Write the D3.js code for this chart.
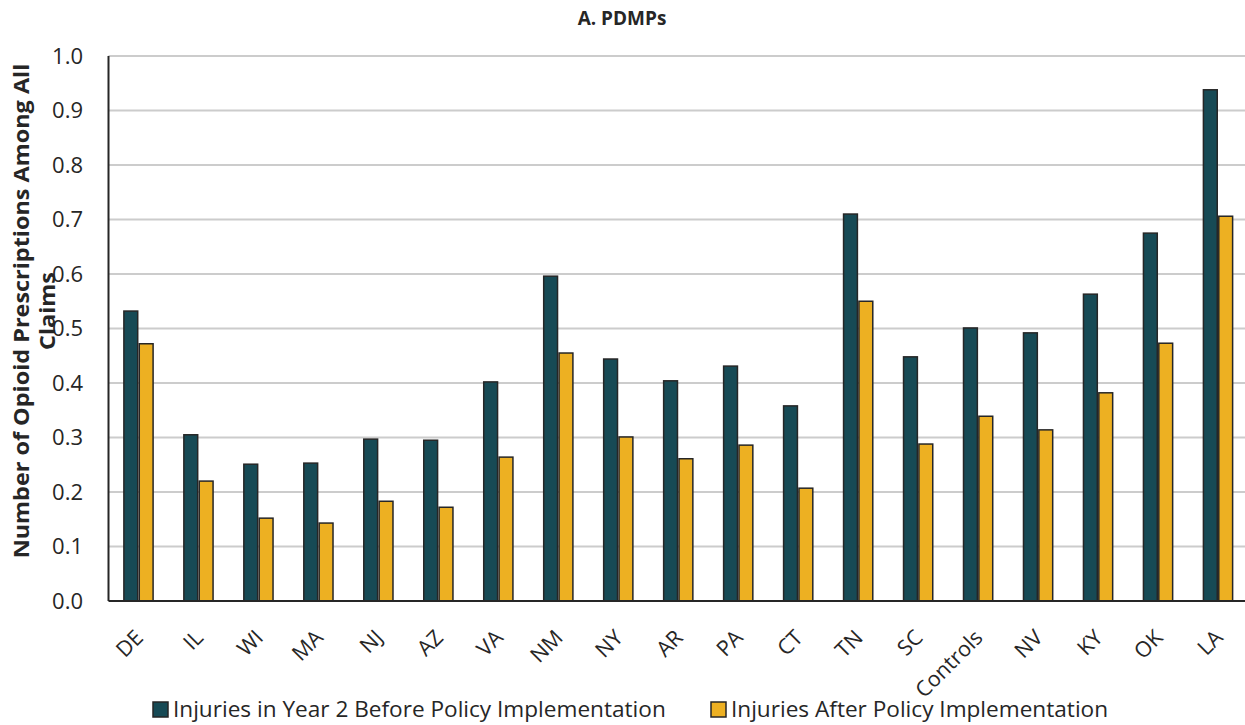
<!DOCTYPE html>
<html><head><meta charset="utf-8">
<script src="https://cdn.jsdelivr.net/npm/d3@7"></script>
<style>body{margin:0;background:#fff}svg{display:block}text{font-family:"Open Sans","Noto Sans",sans-serif;fill:#262626}</style>
</head><body>
<svg id="c" width="1245" height="725"></svg>
<script>
const categories = ["DE","IL","WI","MA","NJ","AZ","VA","NM","NY","AR","PA","CT","TN","SC","Controls","NV","KY","OK","LA"];
const before = [0.532,0.305,0.251,0.253,0.297,0.295,0.402,0.596,0.444,0.404,0.431,0.358,0.710,0.448,0.501,0.492,0.563,0.675,0.938];
const after  = [0.472,0.220,0.152,0.143,0.183,0.172,0.264,0.455,0.301,0.261,0.286,0.207,0.550,0.288,0.339,0.314,0.382,0.473,0.706];
const seriesNames = ["Injuries in Year 2 Before Policy Implementation","Injuries After Policy Implementation"];
const yTicks = [0,0.1,0.2,0.3,0.4,0.5,0.6,0.7,0.8,0.9,1.0];
const colors = ["#174a55","#edb022"];

const svg = d3.select("#c");
const m = {l:108.5, r:1248, t:56, b:601};
const x = d3.scaleBand().domain(categories).range([m.l, m.r]).paddingInner(0).paddingOuter(0);
const x1 = d3.scaleBand().domain([0,1]).range([0, x.bandwidth()]).paddingInner(0.1).paddingOuter(1.0);
const y = d3.scaleLinear().domain([0,1]).range([m.b, m.t]);

// gridlines
svg.append("g").selectAll("line").data(yTicks.slice(1)).join("line")
  .attr("x1", m.l).attr("x2", 1245).attr("y1", d=>y(d)).attr("y2", d=>y(d))
  .attr("stroke", "#cccccc").attr("stroke-width", 2);

// y tick labels
svg.append("g").selectAll("text").data(yTicks).join("text")
  .attr("x", 83).attr("y", d=>y(d)).attr("dy","0.36em").attr("text-anchor","end")
  .attr("font-size", 22).text(d=>d.toFixed(1));

// bars
const data = categories.map((c,i)=>({c, v:[before[i], after[i]]}));
const g = svg.append("g").selectAll("g").data(data).join("g")
  .attr("transform", d=>`translate(${x(d.c)},0)`);
g.selectAll("rect").data(d=>d.v.map((v,k)=>({v,k}))).join("rect")
  .attr("x", d=>x1(d.k)).attr("width", x1.bandwidth())
  .attr("y", d=>y(d.v)).attr("height", d=>y(0)-y(d.v))
  .attr("fill", d=>colors[d.k]).attr("stroke","#262626").attr("stroke-width",1.5);

// axes lines
svg.append("line").attr("x1",m.l).attr("x2",m.l).attr("y1",m.t).attr("y2",m.b).attr("stroke","#262626").attr("stroke-width",2);
svg.append("line").attr("x1",m.l).attr("x2",1245).attr("y1",m.b).attr("y2",m.b).attr("stroke","#262626").attr("stroke-width",2);

// x labels
svg.append("g").selectAll("text").data(categories).join("text")
  .attr("transform", d=>`translate(${x(d)+x.bandwidth()/2+6},${639}) rotate(-45)`)
  .attr("text-anchor","end").attr("font-size", 21.5).text(d=>d);

// title
svg.append("text").attr("x", 622).attr("y", 25).attr("text-anchor","middle")
  .attr("font-size", 19).attr("font-weight","bold").text("A. PDMPs");

// y axis title
const ytg = svg.append("g").attr("transform","translate(0,311) rotate(-90)");
const yt = ytg.append("text").attr("text-anchor","middle").attr("font-size",21).attr("font-weight","bold");
const t1 = yt.append("tspan").attr("x",0).attr("y",29).text("Number of Opioid Prescriptions Among All");
yt.append("tspan").attr("x",0).attr("y",55).text("Claims");
const L1 = t1.node().getComputedTextLength();
yt.attr("transform", `scale(${495/L1},1)`);

// legend
const lg = [{x:153, k:0},{x:711, k:1}];
lg.forEach(l=>{
  svg.append("rect").attr("x",l.x).attr("y",702).attr("width",15).attr("height",15)
    .attr("fill",colors[l.k]).attr("stroke","#262626").attr("stroke-width",1.5);
  svg.append("text").attr("x",l.x+20).attr("y",717).attr("font-size",22.6).text(seriesNames[l.k]);
});
</script>
</body></html>
